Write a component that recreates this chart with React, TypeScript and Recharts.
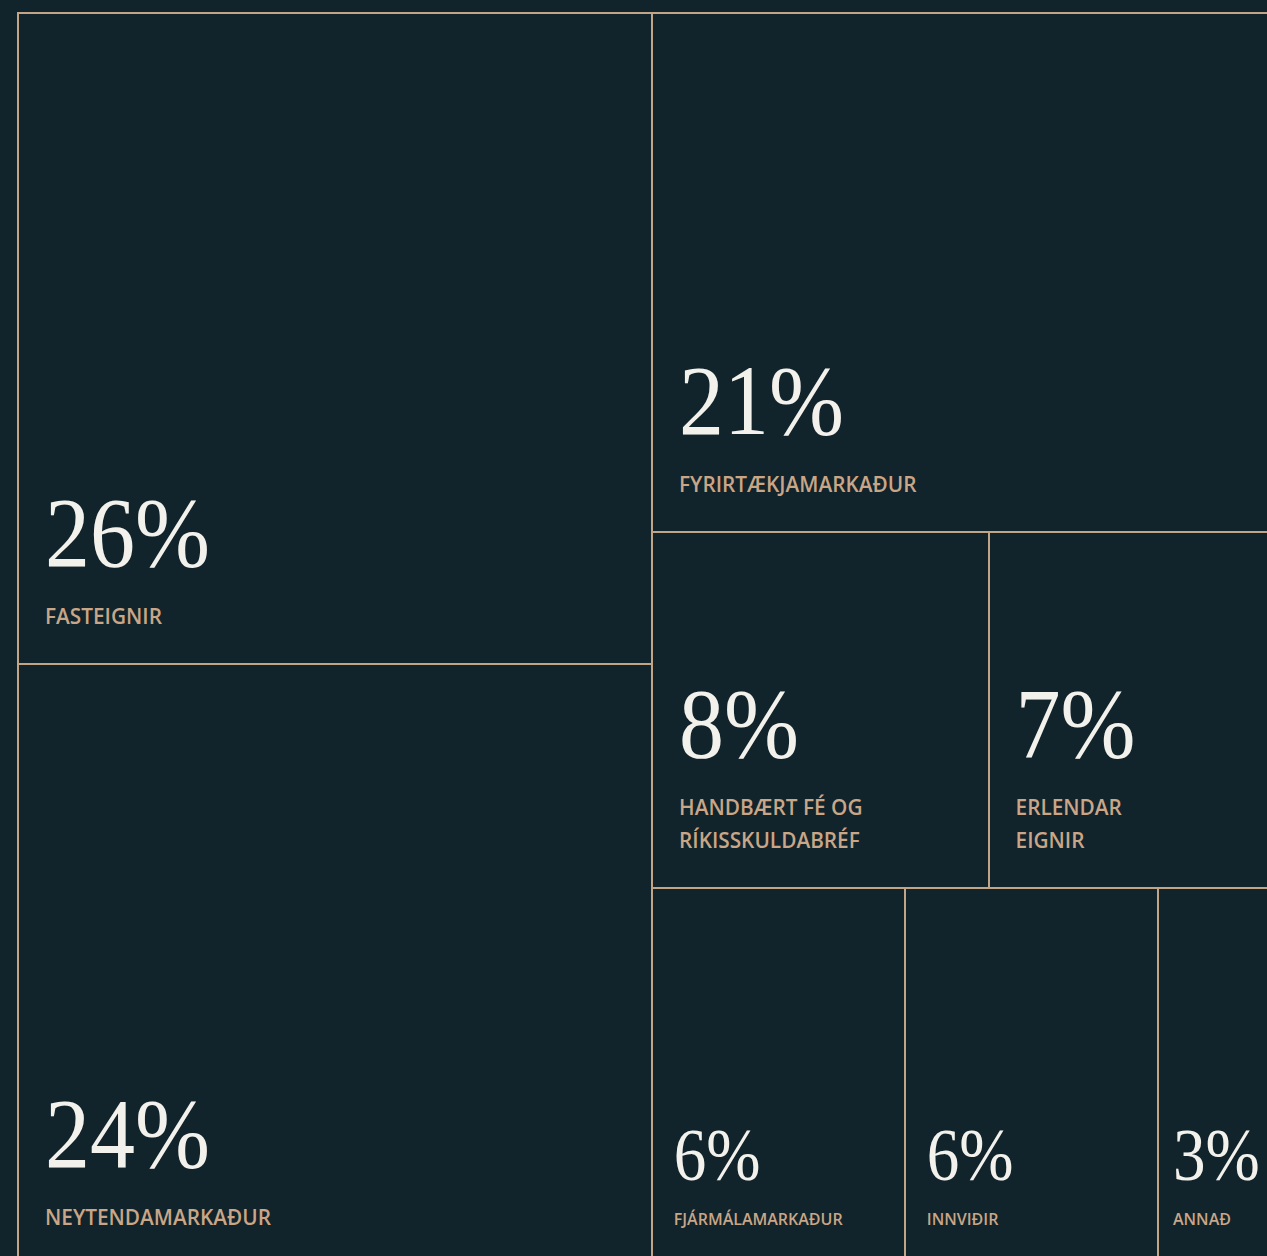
import { Treemap } from 'recharts';

const categories = [
  'FASTEIGNIR',
  'NEYTENDAMARKAÐUR',
  'FYRIRTÆKJAMARKAÐUR',
  'HANDBÆRT FÉ OG\nRÍKISSKULDABRÉF',
  'ERLENDAR\nEIGNIR',
  'FJÁRMÁLAMARKAÐUR',
  'INNVIÐIR',
  'ANNAÐ',
];
const shares = [26, 24, 21, 7.56, 6.84, 6, 6, 3.3];
const shareLabels = ['26%', '24%', '21%', '8%', '7%', '6%', '6%', '3%'];

const data = categories.map((name, i) => ({ name, size: shares[i], pct: shareLabels[i] }));

const BG = '#11232B';
const LINE = '#C2A487';
const LABEL = '#C9A687';
const NUM = '#F3F1EC';

function CellContent(props: any) {
  const { x, y, width, height, depth, name, pct } = props;
  if (depth !== 1) return <g />;
  const big = width > 300;
  const pad = Math.max(16, Math.min(28, width * 0.09)) - 1;
  const lines = String(name).split('\n');
  const lineGap = big ? 33 : 24;
  const lastBase = y + height - 40;
  const firstBase = lastBase - (lines.length - 1) * lineGap;
  const numBase = firstBase - (big ? 58 : 45);
  // serif numbers are a touch narrower in the original, squeeze them horizontally
  const sx = big ? 0.9 : 0.88;
  return (
    <g>
      <rect x={x} y={y} width={width} height={height} fill={BG} stroke={LINE} strokeWidth={2} />
      <text
        transform={`translate(${x + pad},${numBase}) scale(${sx},1)`}
        x={0}
        y={0}
        fontFamily="'Liberation Serif', serif"
        fontSize={big ? 100 : 74}
        fill={NUM}
      >
        {pct}
      </text>
      <text
        fontFamily="'Open Sans', sans-serif"
        fontWeight={600}
        fontSize={big ? 20.8 : 16}
        fill={LABEL}
      >
        {lines.map((l, i) => (
          <tspan key={i} x={x + pad} y={firstBase + i * lineGap}>
            {l}
          </tspan>
        ))}
      </text>
    </g>
  );
}

export default function App() {
  return (
    <div style={{ position: 'fixed', inset: 0, background: BG, overflow: 'hidden' }}>
      <style>{`.tm svg{overflow:visible}`}</style>
      <div className="tm" style={{ position: 'absolute', left: 18, top: 13 }}>
        <Treemap
          width={1277}
          height={1252}
          data={data}
          dataKey="size"
          aspectRatio={1}
          isAnimationActive={false}
          content={<CellContent />}
        />
      </div>
    </div>
  );
}
